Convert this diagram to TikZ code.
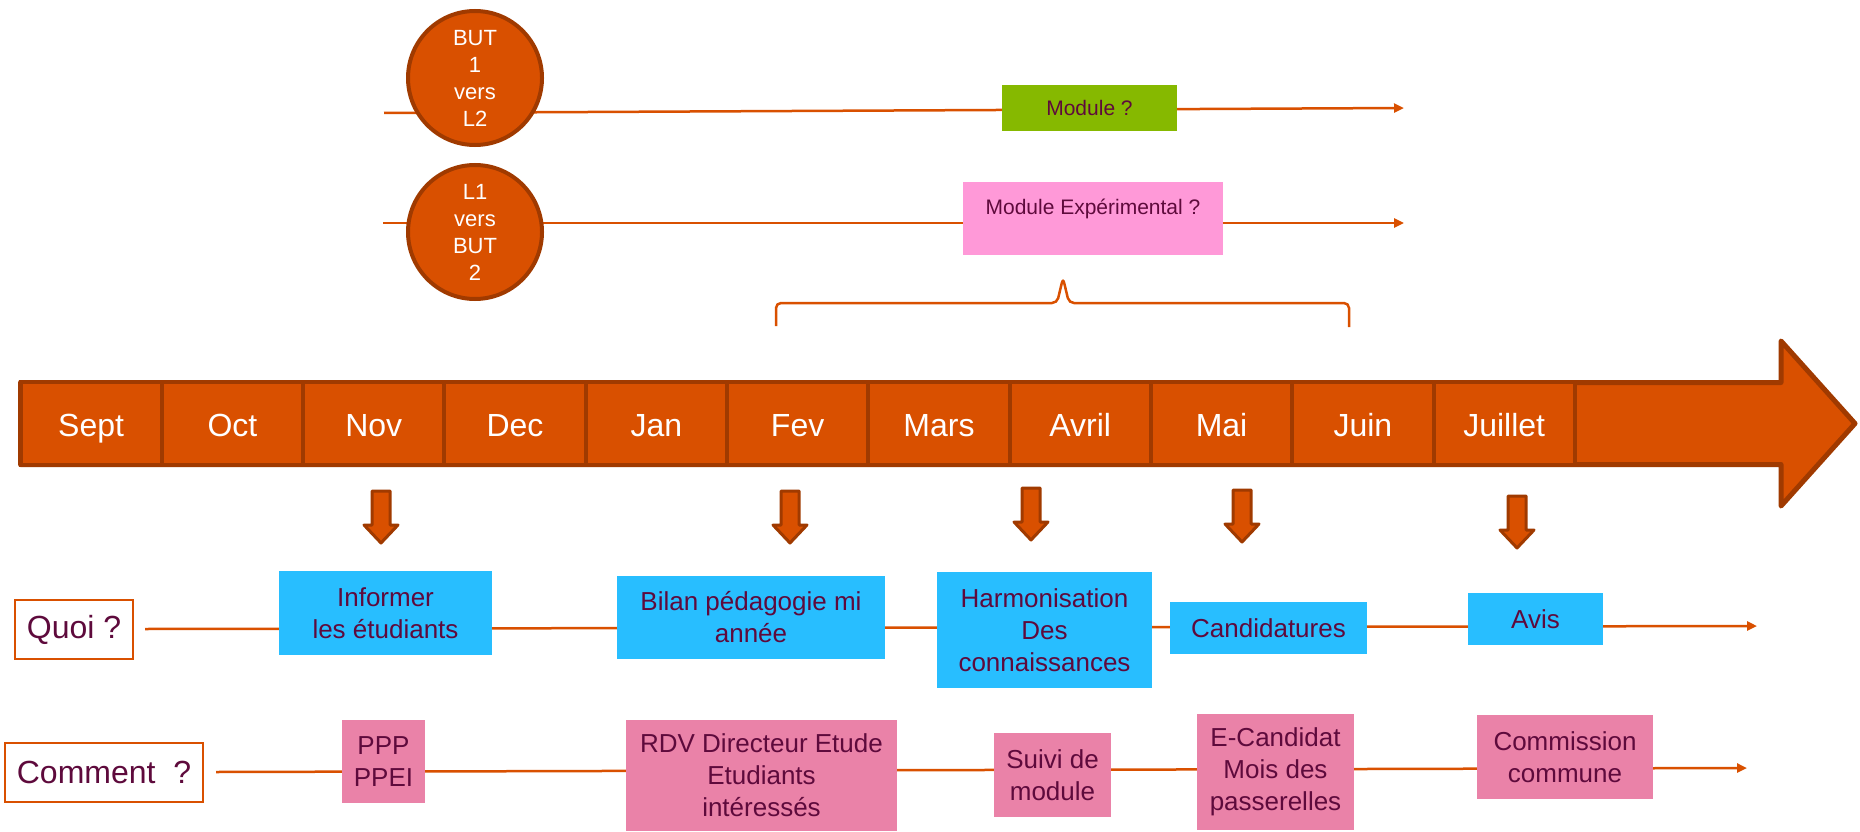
\documentclass[tikz,border=0pt]{standalone}
\usepackage{fontspec}
\setmainfont{Liberation Sans}
\usepackage{xcolor}
\usepackage{tikz}
\definecolor{orangeF}{RGB}{217,80,0}
\definecolor{brunF}{RGB}{160,58,0}
\definecolor{violetT}{RGB}{94,10,60}
\definecolor{bleuB}{RGB}{40,190,255}
\definecolor{roseB}{RGB}{234,130,168}
\definecolor{roseC}{RGB}{255,153,216}
\definecolor{vertB}{RGB}{134,185,0}
\usetikzlibrary{arrows.meta}
\usetikzlibrary{backgrounds}

\begin{document}
\begin{tikzpicture}[x=1pt,y=-1pt,
ligne/.style={draw=orangeF,line width=2.5pt},
fleche/.style={ligne,-{Triangle[length=10pt,width=9pt]}},
rond/.style={circle,draw=brunF,line width=4pt,fill=orangeF,minimum size=134pt,inner sep=0pt,text=white,align=center,font=\fontsize{22}{27}\selectfont},
mois/.style={draw=brunF,line width=4pt,fill=orangeF,minimum width=141.3pt,minimum height=83pt,text height=30pt,text depth=4pt,text=white,font=\fontsize{32}{38}\selectfont},
question/.style={draw=orangeF,line width=2pt,fill=white,text=violetT,font=\fontsize{32}{38}\selectfont,inner sep=0pt},
boite/.style={inner sep=0pt,text=violetT,align=center,font=\fontsize{26}{32}\selectfont},
bleu/.style={boite,fill=bleuB},
rose/.style={boite,fill=roseB},
descente/.style={draw=brunF,line width=3pt,fill=orangeF,line join=round}]
\useasboundingbox(0,0)rectangle(1860,832);

\node[rond](but)at(475,78){BUT\\1\\vers\\L2};
\node[rond](lic)at(475,232){L1\\vers\\BUT\\2};
\node[boite,fill=vertB,minimum width=175pt,minimum height=46pt,font=\fontsize{21}{25}\selectfont](module)at(1089.5,108){Module ?};
\node[boite,fill=roseC,minimum width=260pt,minimum height=73pt,text height=32pt,text depth=41pt,font=\fontsize{21}{25}\selectfont](experim)at(1093,218.5){Module Expérimental ?};
\coordinate(d1)at(384,113);\coordinate(f1)at(1404,108);
\coordinate(d2)at(383,223);\coordinate(f2)at(1404,223);

\draw[ligne,rounded corners=5pt](776,326)--(776,303)--(1057,303)--(1063,278)--(1069,303)--(1349,303)--(1349,327);

\draw[descente,line width=5pt](20.5,382.5)--(1781,382.5)--(1781,341)--(1855,423.5)--(1781,506)--(1781,464.5)--(20.5,464.5)--cycle;
\foreach\m[count=\i]in{Sept,Oct,Nov,Dec,Jan,Fev,Mars,Avril,Mai,Juin,Juillet}
\node[mois](m\i)at({20.5+141.3*(\i-0.5)},423.5){\m};

\foreach\x/\y in{381/491,790/491,1031/488,1242/490,1517/496}
\draw[descente]({\x-9},\y)--({\x+9},\y)--({\x+9},{\y+34})--({\x+17},{\y+34})--(\x,{\y+52})--({\x-17},{\y+34})--({\x-9},{\y+34})--cycle;

\node[question,minimum width=118pt,minimum height=59pt](quoi)at(74,629.5){Quoi ?};
\node[bleu,minimum width=213pt,minimum height=84pt](informer)at(385.5,613){Informer\\les étudiants};
\node[bleu,minimum width=268pt,minimum height=83pt](bilan)at(751,617.5){Bilan pédagogie mi\\année};
\node[bleu,minimum width=215pt,minimum height=116pt](harmo)at(1044.5,630){Harmonisation\\Des\\connaissances};
\node[bleu,minimum width=197pt,minimum height=52pt](candid)at(1268.5,628){Candidatures};
\node[bleu,minimum width=135pt,minimum height=52pt](avis)at(1535.5,619){Avis};
\coordinate(dq)at(145,629);\coordinate(fq)at(1757,626);

\node[question,minimum width=198pt,minimum height=59pt](comment)at(104,772.5){Comment\ \ ?};
\node[rose,minimum width=83pt,minimum height=83pt](ppp)at(383.5,761.5){PPP\\PPEI};
\node[rose,minimum width=271pt,minimum height=111pt](rdv)at(761.5,775.5){RDV Directeur Etude\\Etudiants\\intéressés};
\node[rose,minimum width=117pt,minimum height=84pt](suivi)at(1052.5,775){Suivi de\\module};
\node[rose,minimum width=157pt,minimum height=116pt](ecandidat)at(1275.5,772){E-Candidat\\Mois des\\passerelles};
\node[rose,minimum width=176pt,minimum height=84pt](commission)at(1565,757){Commission\\commune};
\coordinate(dc)at(216,772);\coordinate(fc)at(1747,768);

\begin{scope}[on background layer]
\draw[fleche](d1)--(f1);
\draw[fleche](d2)--(f2);
\draw[fleche](dq)--(fq);
\draw[fleche](dc)--(fc);
\end{scope}

\end{tikzpicture}
\end{document}
